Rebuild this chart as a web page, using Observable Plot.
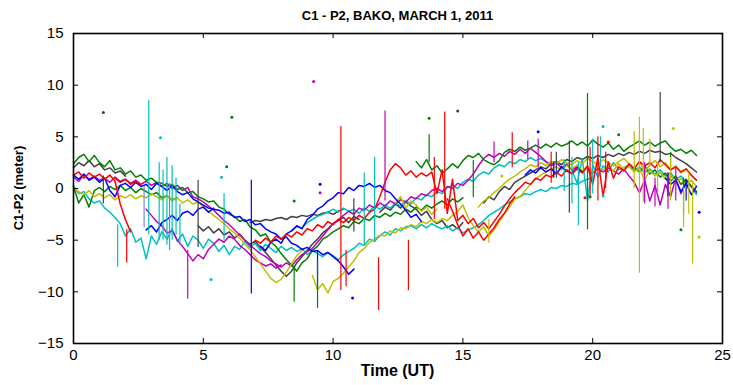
<!DOCTYPE html>
<html>
<head>
<meta charset="utf-8">
<script src="https://cdn.jsdelivr.net/npm/d3@7"></script>
<script src="https://cdn.jsdelivr.net/npm/@observablehq/plot@0.6"></script>
<style>
  body { margin: 0; background: #fff; }
  #wrap { position: relative; width: 733px; height: 385px; font-family: "Liberation Sans", Arial, sans-serif; }
  .lbl { position: absolute; font-weight: bold; color: #000; white-space: nowrap; }
  #title { top: 8px; left: 73px; width: 649px; text-align: center; font-size: 13px; }
  #xlab { top: 362px; left: 73px; width: 649px; text-align: center; font-size: 16px; }
  #ylab { left: 18px; top: 188px; font-size: 13px; transform: translate(-50%, -50%) rotate(-90deg); }
</style>
</head>
<body>
<div id="wrap">
  <div id="title" class="lbl">C1 - P2, BAKO, MARCH 1, 2011</div>
  <div id="ylab" class="lbl">C1-P2 (meter)</div>
  <div id="xlab" class="lbl">Time (UT)</div>
</div>
<script>
// ---- axis ticks ----
const xTicks = [0, 5, 10, 15, 20, 25];
const yTicks = [-15, -10, -5, 0, 5, 10, 15];

// ---- sample step (hours) for all traces ----
const DT = 0.2;

// ---- traces: values (meters), each starts at its own time ----
const blueA = [1.3,0.9,1.4,0.8,1.1,0.6,1.0,-0.2,-0.8,0.3,0.5,0.1,0.6,0.2,0.4,-0.1,0.5,0.2,-0.2,0.3,-0.3,-0.6,-0.4,-1.0,-1.3,-1.6,-1.9,-2.0,-2.1,-2.4,-2.3,-2.8,-2.7,-3.2,-3.0,-3.5,-3.4,-3.9,-4.2,-4.4,-4.9,-4.7,-5.3,-5.5,-5.9,-5.7,-6.1,-6.0,-6.4,-6.2,-6.6,-7.0,-7.6,-8.3,-7.8];
const blueB = [-4.0,-3.6,-4.2,-3.3,-3.0,-2.6,-3.1,-2.4,-2.2,-2.6,-2.0,-1.8,-2.3,-1.9];
const blueD = [-5.6,-6.0,-5.2,-4.9,-5.3,-4.4,-4.1,-3.6,-3.9,-3.0,-2.6,-2.0,-1.7,-1.2,-0.9,-0.4,-0.5,0.1,-0.2,0.3,0.2,0.5,0.1,0.3,-0.2,-0.4,-1.0,-1.5,-2.1,-2.8,-2.5,-3.2];
const blueE = [1.3,1.8,1.5,2.0,1.6,1.9,1.4,2.1,1.7,1.5,2.0,1.6];
const blueF = [1.0,0.4,0.8,-0.3,0.5,-0.6,0.2];

const greenA = [2.4,3.0,3.3,2.6,3.2,2.5,2.1,2.7,1.8,2.0,1.4,1.7,1.1,1.3,0.8,1.0,0.6,0.5,0.2,0.4,-0.1,0.1,-0.4,-0.3,-0.8,-1.0,-1.3,-1.2,-1.8,-2.0,-2.5,-2.7,-3.2,-3.0,-3.7,-4.0,-4.6,-4.4,-5.2,-5.6,-6.3,-6.9,-7.4,-8.0,-7.2,-6.8,-6.0,-5.6,-4.9,-4.6,-4.2,-3.9,-3.6,-3.8,-3.2,-3.4,-2.9,-3.1,-2.6,-2.8,-2.4,-2.7,-2.3,-2.5,-2.0,-2.3,-1.8,-2.1,-1.6,-1.9,-1.5,-1.2,-1.6,-1.0,-1.3,-0.9];
const greenB = [0.2,-1.4,-0.6,-1.8,-0.2,0.1,-0.3,0.2,-0.1,0.3,-0.2,0.1,-0.4,0.0,-0.3,-0.6,-0.4,-0.9,-0.7,-1.1,-0.9];
const greenTop = [2.6,2.0,2.8,1.8,2.2,1.5,1.9,2.4,2.0,2.7,3.2,3.0,3.4,2.8,2.5,2.3,2.7,3.5,3.8,3.6,4.0,3.7,3.9,4.2,3.9,4.3,4.0,4.4,4.1,4.3,4.6,4.2,4.5,4.1,4.7,4.3,4.0,4.4,3.8,4.2,3.6,4.0,4.3,4.6,4.2,4.5,4.1,4.4,4.6,4.0,3.6,3.8,3.4,3.7,3.2];
const greenLate = [2.0,1.6,2.2,1.4,1.8,1.1,1.5,0.7,1.2,0.4,0.9,0.2,-0.3];

const cyanA = [0.2,-0.5,-0.3,-1.0,-1.4,-1.2,-1.9,-2.3,-2.8,-3.4,-4.6,-3.9,-5.2,-4.8,-6.8,-4.6,-5.4,-4.2,-4.9,-3.9,-5.1,-4.4,-5.6,-4.6,-5.0,-5.8,-4.9,-5.3,-6.1,-5.5,-6.4,-5.6,-5.9,-5.1,-5.7,-5.3,-6.0,-5.4,-5.8,-6.2,-5.6,-6.0,-5.7,-6.1,-5.8,-6.4,-6.0,-6.3,-6.6,-6.2,-6.5,-6.9,-6.4,-6.1,-5.8,-5.3,-5.5,-4.9,-5.1,-4.6,-4.2,-4.5,-3.9,-4.1,-3.7,-3.6,-3.9,-3.5,-3.8,-3.4,-3.7,-3.9,-3.6,-4.1,-3.8,-4.3,-4.0,-3.8,-3.5,-3.1,-2.6,-2.3,-2.0,-1.6,-1.3,-1.0,-0.8,-0.5,-0.6,-0.3,-0.1,-0.3,0.1,0.0,0.3,0.2,0.5,0.4,0.7,0.9,1.1];
const cyanB = [-4.1,-3.7,-3.8,-3.3,-3.0,-2.7,-2.5,-2.3,-2.0,-2.3,-1.9,-2.2,-2.0,-2.4,-1.9,-2.2,-1.7,-2.0,-1.6,-1.9,-1.4,-1.7,-1.2,-1.5,-0.9,-1.1,-0.6,-0.8,-0.3,-0.5,0.1,0.3,0.0,0.6,0.9,0.7,1.3,1.6,1.4,2.0,2.3,2.1,2.6,2.4,2.8,2.6,3.0,2.7,2.9,2.6,2.3,2.5,2.0,2.4,1.8,0.5,2.9,-1.2,2.3,1.1,2.2,1.6,2.5,1.8,2.0,2.3,1.7,2.1,1.5,1.9,1.4,1.8,1.2,1.5,0.9,1.2,0.6,0.2,-0.6];

const magA = [1.1,0.7,1.3,0.9,1.2,0.8,1.0,0.6,1.1,0.7,0.9,0.5,0.8,0.4,0.7,0.3,0.6,0.2,0.5,0.0,0.3,-0.2,0.1,-0.8,-1.0,-1.3,-1.7,-2.1,-2.6,-3.1,-3.5,-4.0,-4.5,-5.0,-5.5,-5.9,-6.3,-6.6,-7.0,-7.3,-7.6,-7.2,-7.5,-6.9,-6.4,-6.1,-5.8,-5.2,-4.6,-4.0,-3.4,-3.0,-2.6,-2.2,-2.5,-1.9,-2.1,-1.6,-1.9,-1.4,-1.7,-1.2,-1.5,-1.1,-1.3,-0.8,-1.0,-0.5,-0.7,-0.2,0.0,-0.3,0.2,0.0,0.5,0.3,0.8,1.4,2.2,2.9,3.3,3.0,3.4,3.1,3.6,3.3,3.8,3.4,3.9,3.5,3.1,2.6,2.2,2.5,2.0,2.3,1.8,2.1,1.7,2.0,1.5,1.9,1.6,2.0,1.7,1.4,1.9,1.2,0.6,-0.4,0.8,-1.2,0.3,-1.6,0.4,-0.8,1.0,-0.5,0.7,0.2,-0.4];
const magB = [-2.0,-2.6,-3.2,-3.6,-4.3,-4.1,-5.0,-5.6,-6.3,-7.0,-6.4,-6.8,-5.9,-5.4,-4.9,-5.2,-4.6,-4.9,-5.5,-5.9,-6.4,-6.9,-7.2,-7.5,-7.3,-7.7,-7.4];

const redA = [1.3,1.6,1.0,1.5,1.1,1.4,0.9,1.3,0.7,-1.5,-3.0,-4.2];
const redA2 = [1.0,0.6,0.9,0.4,0.7,0.3];
const redB = [-5.0,-5.3,-4.8,-5.2,-4.6,-4.9,-4.4,-4.7,-4.2,-4.5,-3.9,-4.1,-3.5,-3.8,-3.2,-3.5,-3.0,-3.3,-2.8,-3.1,-2.6,-2.9,-2.3,-2.0,-0.8,0.6,1.8,2.4,2.0,1.3,1.7,1.1,1.5,1.2,1.6,-0.5,1.8,-2.4,0.9,-3.1,-2.6,-3.4,-2.9,-3.8,-3.3,-3.9,-3.2,-2.5,-1.7,-1.0,-0.4,0.1,0.6,0.4,1.0,0.8,1.3,1.1,1.6,1.2,1.8,1.4,1.9,1.5,2.2,0.4,3.0,-0.8,2.6,1.0,2.1,1.7,2.4,1.9,2.6,2.2,2.5,2.0,2.8,2.3,1.8,2.1,1.6,1.9,1.3,0.8];
const redC = [-1.0,-2.2,-3.5,-4.6,-3.9,-4.8,-4.2,-5.0,-4.4,-3.8,-3.0,-2.4,-1.5,-0.8];

const yelA = [0.1,-0.3,-0.6,-0.2,-0.8,-0.5,-0.9,-0.6,-1.1,-0.7,-0.9,-0.6,-1.0,-0.7,-0.9,-0.5,-0.8,-1.1,-0.7,-1.2,-0.9,-1.4,-1.1,-1.5,-1.3,-1.8,-2.2,-2.6,-3.0,-3.4,-3.9,-4.3,-4.8,-5.4,-5.9,-6.6,-7.3,-8.0,-8.7,-9.1,-8.8,-8.1,-7.3,-6.5,-6.0];
const yelB = [-8.4,-9.8,-9.2,-10.1,-9.0,-8.7,-8.2,-7.6,-7.0,-6.2,-5.8,-5.2,-4.9,-4.5,-4.6,-4.1,-4.3,-3.8,-3.9,-3.5,-3.7,-3.2,-3.4,-3.0,-3.3,-2.9,-3.1,-2.6,-2.2,-1.6,-2.8,-3.6,-4.2,-3.7,-4.6,-4.0,-3.2,-2.4,-1.8,-1.0,-0.8,-0.2,0.4,0.9,1.3,1.6,1.9,2.1,1.8,2.2,1.9,2.3,1.7,2.1,1.6,2.0,1.8,2.2,1.7,2.4,1.9,2.1,1.6,2.0,0.8,1.8,1.2,1.6,0.9,1.3,0.5,1.0,0.3,0.8,0.2];
const yelC = [-1.4,-0.8,-1.9,-1.2,-1.6,-2.2,-1.8,-2.5,-2.0];
const yelD = [-1.8,-1.2,-0.9,-0.4,0.0,0.5,0.9,1.2,1.6,1.9,2.3,2.1,2.5,2.2,2.6,2.4,2.8,2.5,2.3,2.7,2.4,2.9,2.6,2.3,2.8,2.5,2.2,2.6,2.9,2.4,2.0,2.6,1.6,2.3,2.7,2.1,2.5,1.8,2.2,1.5,1.9,1.2,0.8];

const grayA = [2.0,2.5,2.2,2.7,2.1,2.4,1.8,2.0,1.5,1.7,1.2];
const grayB = [-3.6,-4.1,-3.7,-4.3,-3.9,-4.5,-4.2,-4.8,-4.4,-5.0,-5.4,-5.1,-5.7,-6.2,-6.8,-7.4,-8.0,-8.5,-8.0,-7.2,-6.6,-6.0,-5.4,-4.9,-4.3,-3.9,-3.4,-3.1,-2.8,-3.3,-2.7,-3.0];
const grayC = [-3.3,-3.1,-3.2,-3.0,-3.1,-2.9,-2.8,-3.0,-2.7,-2.8,-2.6,-2.7,-2.5,-2.6,-2.4,-2.3,-2.5,-2.2,-2.0];
const grayD = [-2.3,-1.8,-2.1,-1.5,-1.9,-1.3,-1.7,-2.0,-2.6,-2.2,-3.0,-3.4,-3.1,-3.8,-3.5,-3.9,-3.3];
const grayE = [-1.4,-0.8,-1.1,-0.3,0.2,-0.1,0.6,0.9,1.2,1.5,1.8,2.1,1.9,2.4,2.6,2.3,2.8,2.6,3.0,2.8,3.1,2.9,3.2,3.0,3.3,3.1,3.4,3.2,3.5,3.3,3.6,3.4,3.7,3.5,3.6,3.3,3.4,3.0,2.7,2.4,2.0,1.6];

// [series, start time (h), values]
const traces = [
  ["gray", 0, grayA], ["gray", 4.8, grayB], ["gray", 6.8, grayC], ["gray", 11.8, grayD], ["gray", 15.8, grayE],
  ["cyan", 0, cyanA], ["cyan", 8.4, cyanB],
  ["magenta", 0, magA], ["magenta", 2.8, magB],
  ["green", 0, greenA], ["green", 0, greenB], ["green", 13.2, greenTop], ["green", 21.6, greenLate],
  ["yellow", 0, yelA], ["yellow", 9.2, yelB], ["yellow", 12.4, yelC], ["yellow", 15.6, yelD],
  ["blue", 0, blueA], ["blue", 2.8, blueB], ["blue", 7.2, blueD], ["blue", 17.4, blueE], ["blue", 22.8, blueF],
  ["red", 0, redA], ["red", 1.6, redA2], ["red", 7.0, redB], ["red", 14.4, redC]
];

// outlier spikes: [series, time, from, to]
const spikes = [
  ["lavender", 2.72, 0.2, -3.8],
  ["blue", 6.85, 0.8, -10.2], ["blue", 9.4, -6.0, -9.5], ["blue", 23.6, 0.8, -1.2], ["blue", 22.9, 1.5, -0.8], ["blue", 18.5, 1.0, 2.6],
  ["green", 19.8, -4.0, 9.2], ["green", 23.5, 1.0, -2.6], ["green", 8.5, -7.5, -11.0], ["green", 9.4, -7.0, -11.6], ["green", 13.7, 2.5, 5.2], ["green", 15.4, 2.7, -0.9], ["green", 23.0, 3.5, 1.0],
  ["cyan", 1.7, -3.5, -7.6], ["cyan", 2.9, -4.5, 8.5], ["cyan", 3.3, -5.0, 2.5], ["cyan", 3.45, -5.0, 1.8], ["cyan", 3.6, -5.5, 3.0], ["cyan", 3.8, -5.0, 2.2], ["cyan", 3.7, -6.0, 0.5], ["cyan", 3.95, -4.5, 1.0], ["cyan", 4.1, -5.5, -1.5], ["cyan", 5.8, -5.0, -0.5], ["cyan", 11.2, -5.5, 1.5], ["cyan", 11.6, -5.2, 3.0], ["cyan", 19.45, 2.5, -3.6], ["cyan", 19.2, 3.0, -1.5], ["cyan", 18.9, 2.8, -0.3], ["cyan", 20.3, 2.0, 5.0], ["cyan", 20.0, -0.5, 4.8],
  ["magenta", 4.4, -6.0, -10.7], ["magenta", 12.0, -1.2, 7.5], ["magenta", 17.9, 2.0, 4.8], ["magenta", 22.4, 1.0, -1.8], ["magenta", 22.9, 1.5, -2.0], ["magenta", 22.0, 2.5, -1.5], ["magenta", 23.2, 2.0, -1.2], ["magenta", 16.2, 2.5, 4.5], ["magenta", 17.5, 2.8, 4.6],
  ["red", 2.05, -4.0, -7.2], ["red", 10.3, -9.9, 6.0], ["red", 10.5, -6.0, -9.5], ["red", 11.75, -6.7, -11.8], ["red", 12.9, -5.0, -9.9], ["red", 14.3, -2.0, 7.4], ["red", 13.9, -3.0, 3.0], ["red", 16.9, 2.0, 5.4], ["red", 20.2, -1.2, 5.0], ["red", 19.9, -1.0, 4.0], ["red", 20.5, 0.0, 3.5], ["red", 18.4, 0.5, 3.5],
  ["yellow", 21.8, -8.2, 6.9], ["yellow", 23.85, 0.5, -7.3], ["yellow", 21.6, 0.0, 5.5], ["yellow", 22.2, 2.0, 4.8], ["yellow", 23.5, 0.0, -3.8], ["yellow", 21.95, -1.3, 5.8], ["yellow", 23.0, 3.0, -1.2], ["yellow", 22.5, 2.5, -0.5], ["yellow", 23.7, 1.5, -2.5], ["yellow", 16.0, -5.3, -3.0],
  ["gray", 4.8, 0.8, -5.7], ["gray", 10.8, -1.0, -4.2], ["gray", 19.1, 4.6, -2.4], ["gray", 22.6, 2.5, 9.3], ["gray", 1.15, 1.2, -1.5], ["gray", 18.6, 1.0, 3.5]
];

// isolated points: [series, time, value]
const points = [
  ["gray", 1.15, 7.35], ["gray", 14.8, 7.5],
  ["cyan", 3.35, 4.9], ["cyan", 5.7, 1.1], ["cyan", 20.4, 6.0], ["cyan", 20.4, -0.7], ["cyan", 5.3, -8.8],
  ["green", 6.1, 6.9], ["green", 5.9, 2.1], ["green", 8.5, -1.2], ["green", 13.7, 6.8], ["green", 21.0, 5.2], ["green", 23.4, -4.0], ["green", 19.9, -0.8],
  ["magenta", 9.25, 10.35], ["magenta", 9.5, -0.4],
  ["blue", 9.5, 0.4], ["blue", 10.75, -10.6], ["blue", 17.9, 5.5], ["blue", 24.1, -2.3],
  ["red", 20.6, 4.5], ["red", 19.7, -0.9],
  ["yellow", 16.5, 1.2], ["yellow", 23.1, 5.8], ["yellow", 24.1, -4.7]
];

const COLORS = {
  blue: "#0000ff", green: "#008000", red: "#ff0000", cyan: "#00bfbf",
  magenta: "#bf00bf", yellow: "#bfbf00", gray: "#404040", lavender: "#8080ff"
};

const rows = traces.flatMap(([s, t0, vals], i) =>
  vals.map((v, j) => ({id: i, s, t: +(t0 + j * DT).toFixed(3), v})));
const spikeRows = spikes.map(([s, t, a, b]) => ({s, t, a, b}));
const pointRows = points.map(([s, t, v]) => ({s, t, v}));

const W = 733, H = 385, mT = 33, mB = 42, mL = 73, mR = 11;
const innerH = H - mT - mB, innerW = W - mL - mR, TL = 5;

const chart = Plot.plot({
  width: W, height: H,
  marginTop: mT, marginBottom: mB, marginLeft: mL, marginRight: mR,
  x: {domain: [0, 25]},
  y: {domain: [-15, 15]},
  style: {fontFamily: "'Liberation Sans', Arial, sans-serif", fontSize: "15px", background: "white", color: "black", overflow: "visible"},
  marks: [
    Plot.line(rows, {x: "t", y: "v", z: "id", stroke: d => COLORS[d.s], strokeWidth: 1.5}),
    Plot.ruleX(spikeRows, {x: "t", y1: "a", y2: "b", stroke: d => COLORS[d.s], strokeWidth: 1.2}),
    Plot.dot(pointRows, {x: "t", y: "v", r: 1.5, fill: d => COLORS[d.s], stroke: null}),
    Plot.frame({stroke: "black", strokeWidth: 1.6}),
    Plot.tickX(xTicks, {x: d => d, insetTop: innerH - TL, stroke: "black"}),
    Plot.tickX(xTicks, {x: d => d, insetBottom: innerH - TL, stroke: "black"}),
    Plot.tickY(yTicks, {y: d => d, insetRight: innerW - TL, stroke: "black"}),
    Plot.tickY(yTicks, {y: d => d, insetLeft: innerW - TL, stroke: "black"}),
    Plot.axisX({ticks: xTicks, tickSize: 0, tickPadding: 6, label: null}),
    Plot.axisY({ticks: yTicks, tickSize: 0, tickPadding: 10, label: null})
  ]
});
chart.style.position = "absolute";
chart.style.left = "0px";
chart.style.top = "0px";
const wrap = document.getElementById("wrap");
wrap.insertBefore(chart, wrap.firstChild);
</script>
</body>
</html>
